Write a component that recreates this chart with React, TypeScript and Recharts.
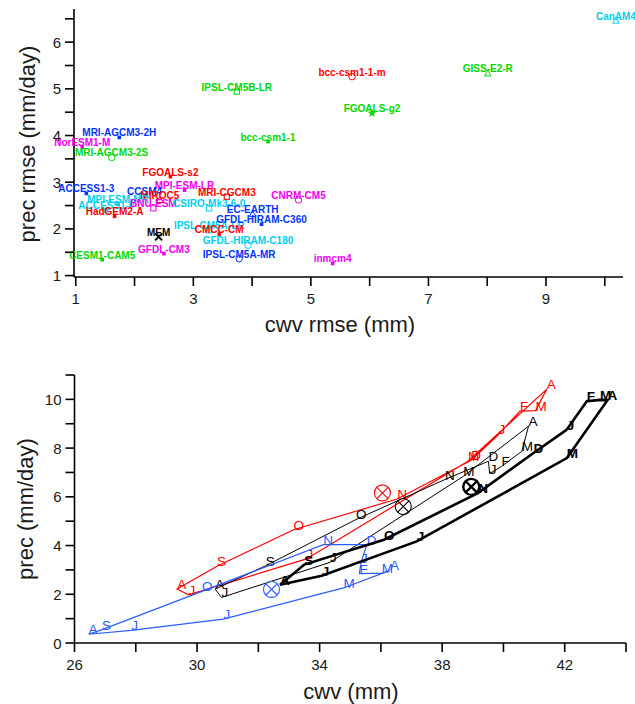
import React from 'react';
import { ScatterChart, Scatter, XAxis, YAxis } from 'recharts';

// top panel: rmse of each model against obs
const models = [
  'MRI-AGCM3-2H', 'NorESM1-M', 'MRI-AGCM3-2S', 'FGOALS-s2', 'ACCESS1-3', 'MPI-ESM-LR',
  'CCSM4', 'MIROC5', 'MPI-ESM-MR', 'ACCESS1-0', 'BNU-ESM', 'CSIRO-Mk3-6-0',
  'HadGEM2-A', 'MEM', 'GFDL-CM3', 'CESM1-CAM5', 'IPSL-CM5A-LR', 'CMCC-CM',
  'GFDL-HIRAM-C180', 'IPSL-CM5A-MR', 'GFDL-HIRAM-C360', 'EC-EARTH', 'MRI-CGCM3', 'CNRM-CM5',
  'bcc-csm1-1', 'IPSL-CM5B-LR', 'bcc-csm1-1-m', 'GISS-E2-R', 'FGOALS-g2', 'CanAM4', 'inmcm4',
];
const cwvRmse = [
  1.74, 1.11, 1.61, 2.61, 1.18, 2.85,
  2.17, 2.43, 1.72, 1.52, 2.32, 3.27,
  1.66, 2.41, 2.5, 1.45, 3.27, 3.44,
  3.93, 3.78, 4.16, 4.01, 3.57, 4.79,
  4.27, 3.74, 5.7, 8.01, 6.04, 10.19, 5.37,
];
const precRmse = [
  3.96, 3.75, 3.53, 3.12, 2.76, 2.83,
  2.7, 2.62, 2.53, 2.4, 2.44, 2.44,
  2.27, 1.83, 1.47, 1.34, 1.97, 1.89,
  1.65, 1.36, 2.1, 2.32, 2.69, 2.62,
  3.87, 4.94, 5.26, 5.33, 4.48, 6.46, 1.26,
];

// bottom panel: seasonal cycle, one point per month
const months = ['J', 'F', 'M', 'A', 'M', 'J', 'J', 'A', 'S', 'O', 'N', 'D'];
const redCwv = [39.84, 40.54, 41.05, 41.41, 38.84, 33.57, 29.72, 29.35, 30.65, 33.15, 36.53, 38.95];
const redPrec = [8.56, 9.52, 9.54, 10.41, 7.46, 3.45, 1.98, 2.22, 3.15, 4.65, 5.91, 7.5];
const blackCwv = [39.55, 39.94, 40.6, 40.82, 38.69, 34.34, 30.8, 30.59, 32.24, 35.19, 38.09, 39.51];
const blackPrec = [6.95, 7.25, 7.87, 8.9, 6.84, 3.31, 1.87, 2.21, 3.17, 5.07, 6.71, 7.46];
const blueCwv = [35.35, 35.3, 36.03, 36.3, 34.78, 30.86, 27.85, 26.46, 26.9, 30.16, 34.12, 35.54];
const bluePrec = [3.3, 2.85, 2.87, 2.98, 2.26, 0.98, 0.52, 0.36, 0.55, 2.12, 4.04, 4.04];
const thickCwv = [42.07, 42.72, 43.15, 43.4, 42.07, 37.17, 34.07, 32.71, 33.5, 36.1, 39.18, 40.98];
const thickPrec = [8.76, 9.92, 9.98, 9.97, 7.59, 4.17, 2.76, 2.39, 3.22, 4.24, 6.16, 7.8];
// annual means (red, black, blue, thick black)
const meanCwv = [36.05, 36.73, 32.43, 38.95];
const meanPrec = [6.16, 5.6, 2.2, 6.41];

const topXTicks = [1, 2, 3, 4, 5, 6, 7, 8, 9, 10];
const topYTicks = [1, 1.5, 2, 2.5, 3, 3.5, 4, 4.5, 5, 5.5, 6, 6.5];
const botXTicks = [26, 28, 30, 32, 34, 36, 38, 40, 42, 44];
const botYTicks = [0, 1, 2, 3, 4, 5, 6, 7, 8, 9, 10, 11];

// styles
const FONT = '"Liberation Sans", Arial, sans-serif';
const RED = '#ff0000';
const GREEN = '#00d800';
const BLUE = '#0035ff';
const CYAN = '#00d0f0';
const MAGENTA = '#ee00ee';

const modelColor: Record<string, string> = {
  'bcc-csm1-1-m': RED, 'FGOALS-s2': RED, MIROC5: RED, 'MRI-CGCM3': RED, 'HadGEM2-A': RED, 'CMCC-CM': RED,
  'IPSL-CM5B-LR': GREEN, 'GISS-E2-R': GREEN, 'FGOALS-g2': GREEN, 'bcc-csm1-1': GREEN,
  'MRI-AGCM3-2S': GREEN, 'CESM1-CAM5': GREEN,
  'MRI-AGCM3-2H': BLUE, 'ACCESS1-3': BLUE, CCSM4: BLUE, 'EC-EARTH': BLUE, 'GFDL-HIRAM-C360': BLUE,
  'IPSL-CM5A-MR': BLUE,
  CanAM4: CYAN, 'MPI-ESM-MR': CYAN, 'ACCESS1-0': CYAN, 'CSIRO-Mk3-6-0': CYAN, 'IPSL-CM5A-LR': CYAN,
  'GFDL-HIRAM-C180': CYAN,
  'NorESM1-M': MAGENTA, 'MPI-ESM-LR': MAGENTA, 'BNU-ESM': MAGENTA, 'GFDL-CM3': MAGENTA,
  'CNRM-CM5': MAGENTA, inmcm4: MAGENTA,
  MEM: '#000000',
};
const modelMark: Record<string, string> = {
  'MRI-AGCM3-2S': 'o', 'GFDL-HIRAM-C180': 'o', 'IPSL-CM5A-MR': 'o', 'CNRM-CM5': 'o', 'bcc-csm1-1-m': 'o',
  'BNU-ESM': 's', 'CSIRO-Mk3-6-0': 's', 'IPSL-CM5A-LR': 's', 'MRI-CGCM3': 's', 'IPSL-CM5B-LR': 's',
  MIROC5: 't', 'EC-EARTH': 't', 'GISS-E2-R': 't', CanAM4: 't',
  'ACCESS1-0': '*', 'FGOALS-g2': '*',
  MEM: 'x',
};
const loopStyle = [
  { color: RED, width: 1.2, bold: false },
  { color: '#000000', width: 1, bold: false },
  { color: '#2a5cff', width: 1.2, bold: false },
  { color: '#000000', width: 2.6, bold: true },
];

const modelRows = models.map((name, i) => ({ name, cwv: cwvRmse[i], prec: precRmse[i] }));

const makeLoop = (cwv: number[], prec: number[]) => {
  const rows = months.map((m, i) => ({ m, cwv: cwv[i], prec: prec[i] }));
  return [...rows, { m: '', cwv: cwv[0], prec: prec[0] }];
};
const loops = [
  makeLoop(redCwv, redPrec),
  makeLoop(blackCwv, blackPrec),
  makeLoop(blueCwv, bluePrec),
  makeLoop(thickCwv, thickPrec),
];
const meanRows = meanCwv.map((c, i) => ({ cwv: c, prec: meanPrec[i], s: i }));

const axisLine = { stroke: '#000', strokeWidth: 1.6 };
const tickText = { fontFamily: FONT, fontSize: 15, fill: '#1a1a1a' };
const titleText = { fontFamily: FONT, fontSize: 22, fill: '#1a1a1a' };

const xTick = (show: (v: number) => boolean) => (p: any) => {
  const { x, y, payload } = p;
  return (
    <g>
      <line x1={x} y1={y} x2={x} y2={y + 9} stroke="#000" strokeWidth={1.6} />
      {show(payload.value) && (
        <text x={x} y={y + 27} textAnchor="middle" {...tickText}>
          {payload.value}
        </text>
      )}
    </g>
  );
};

const yTick = (show: (v: number) => boolean) => (p: any) => {
  const { x, y, payload } = p;
  return (
    <g>
      <line x1={x - 9} y1={y} x2={x} y2={y} stroke="#000" strokeWidth={1.6} />
      {show(payload.value) && (
        <text x={x - 13} y={y + 5.5} textAnchor="end" {...tickText}>
          {payload.value}
        </text>
      )}
    </g>
  );
};

const Mark = ({ kind, x, y, color }: { kind: string; x: number; y: number; color: string }) => {
  if (kind === 'o') return <circle cx={x} cy={y} r={3.2} fill="none" stroke={color} strokeWidth={1} />;
  if (kind === 's')
    return <rect x={x - 2.6} y={y - 2.6} width={5.2} height={5.2} fill="none" stroke={color} strokeWidth={1} />;
  if (kind === 't')
    return (
      <polygon
        points={`${x},${y - 3.5} ${x - 3.2},${y + 2.5} ${x + 3.2},${y + 2.5}`}
        fill="none"
        stroke={color}
        strokeWidth={1}
      />
    );
  if (kind === '*') {
    const pts = Array.from({ length: 10 }, (_, k) => {
      const r = k % 2 === 0 ? 4.5 : 1.9;
      const a = -Math.PI / 2 + (k * Math.PI) / 5;
      return `${x + r * Math.cos(a)},${y + r * Math.sin(a)}`;
    }).join(' ');
    return <polygon points={pts} fill={color} />;
  }
  if (kind === 'x')
    return (
      <g stroke={color} strokeWidth={2}>
        <line x1={x - 3.5} y1={y - 3.5} x2={x + 3.5} y2={y + 3.5} />
        <line x1={x - 3.5} y1={y + 3.5} x2={x + 3.5} y2={y - 3.5} />
      </g>
    );
  return <rect x={x - 1.8} y={y - 1.8} width={3.6} height={3.6} fill={color} />;
};

const renderModel = (p: any) => {
  const { cx, cy, payload } = p;
  const color = modelColor[payload.name];
  return (
    <g>
      <Mark kind={modelMark[payload.name] || '.'} x={cx} y={cy} color={color} />
      <text
        x={cx}
        y={cy - 1}
        textAnchor="middle"
        fontFamily={FONT}
        fontSize={10}
        fontWeight="bold"
        fill={color}
      >
        {payload.name}
      </text>
    </g>
  );
};

const renderMonth = (s: number) => (p: any) => {
  const { cx, cy, payload } = p;
  if (!payload.m) return <g />;
  const st = loopStyle[s];
  return (
    <text
      x={cx}
      y={cy}
      fontFamily={FONT}
      fontSize={13.5}
      fontWeight={st.bold ? 'bold' : 'normal'}
      fill={st.color}
    >
      {payload.m}
    </text>
  );
};

const renderMean = (p: any) => {
  const { cx, cy, payload } = p;
  const st = loopStyle[payload.s];
  const r = 8;
  const d = r * 0.7;
  return (
    <g stroke={st.color} strokeWidth={st.bold ? 2.4 : 1.1} fill="none">
      <circle cx={cx} cy={cy} r={r} />
      <line x1={cx - d} y1={cy - d} x2={cx + d} y2={cy + d} />
      <line x1={cx - d} y1={cy + d} x2={cx + d} y2={cy - d} />
    </g>
  );
};

const App: React.FC = () => {
  return (
    <div style={{ position: 'absolute', left: 0, top: 0, width: 635, height: 704, background: '#fff' }}>
      <div style={{ position: 'absolute', left: 0, top: 0 }}>
        <ScatterChart width={635} height={340} margin={{ top: 9, right: 12, bottom: 0, left: 0 }}>
          <XAxis
            type="number"
            dataKey="cwv"
            domain={[0.97, 10.31]}
            ticks={topXTicks}
            interval={0}
            height={63}
            axisLine={axisLine}
            tickLine={false}
            tickSize={0}
            tickMargin={0}
            tick={xTick((v) => v % 2 === 1)}
          />
          <YAxis
            type="number"
            dataKey="prec"
            domain={[0.97, 6.71]}
            ticks={topYTicks}
            interval={0}
            width={74}
            axisLine={axisLine}
            tickLine={false}
            tickSize={0}
            tickMargin={0}
            tick={yTick((v) => Number.isInteger(v))}
          />
          <Scatter data={modelRows} shape={renderModel} isAnimationActive={false} />
          <text x={340} y={332} textAnchor="middle" {...titleText}>
            cwv rmse (mm)
          </text>
          <text x={27} y={144} textAnchor="middle" dominantBaseline="central" transform="rotate(-90, 27, 144)" {...titleText}>
            prec rmse (mm/day)
          </text>
        </ScatterChart>
      </div>
      <div style={{ position: 'absolute', left: 0, top: 340 }}>
        <ScatterChart width={635} height={364} margin={{ top: 35, right: 9, bottom: 0, left: 0 }}>
          <XAxis
            type="number"
            dataKey="cwv"
            domain={[26, 44]}
            ticks={botXTicks}
            interval={0}
            height={61}
            axisLine={axisLine}
            tickLine={false}
            tickSize={0}
            tickMargin={0}
            tick={xTick((v) => (v - 26) % 4 === 0 && v <= 42)}
          />
          <YAxis
            type="number"
            dataKey="prec"
            domain={[0, 11]}
            ticks={botYTicks}
            interval={0}
            width={74.5}
            axisLine={axisLine}
            tickLine={false}
            tickSize={0}
            tickMargin={0}
            tick={yTick((v) => v % 2 === 0 && v <= 10)}
          />
          {loops.map((rows, s) => (
            <Scatter
              key={s}
              data={rows}
              line={{ stroke: loopStyle[s].color, strokeWidth: loopStyle[s].width }}
              lineType="joint"
              shape={renderMonth(s)}
              isAnimationActive={false}
            />
          ))}
          <Scatter data={meanRows} shape={renderMean} isAnimationActive={false} />
          <text x={351} y={359} textAnchor="middle" {...titleText}>
            cwv (mm)
          </text>
          <text x={25} y={169} textAnchor="middle" dominantBaseline="central" transform="rotate(-90, 25, 169)" {...titleText}>
            prec (mm/day)
          </text>
        </ScatterChart>
      </div>
    </div>
  );
};

export default App;
